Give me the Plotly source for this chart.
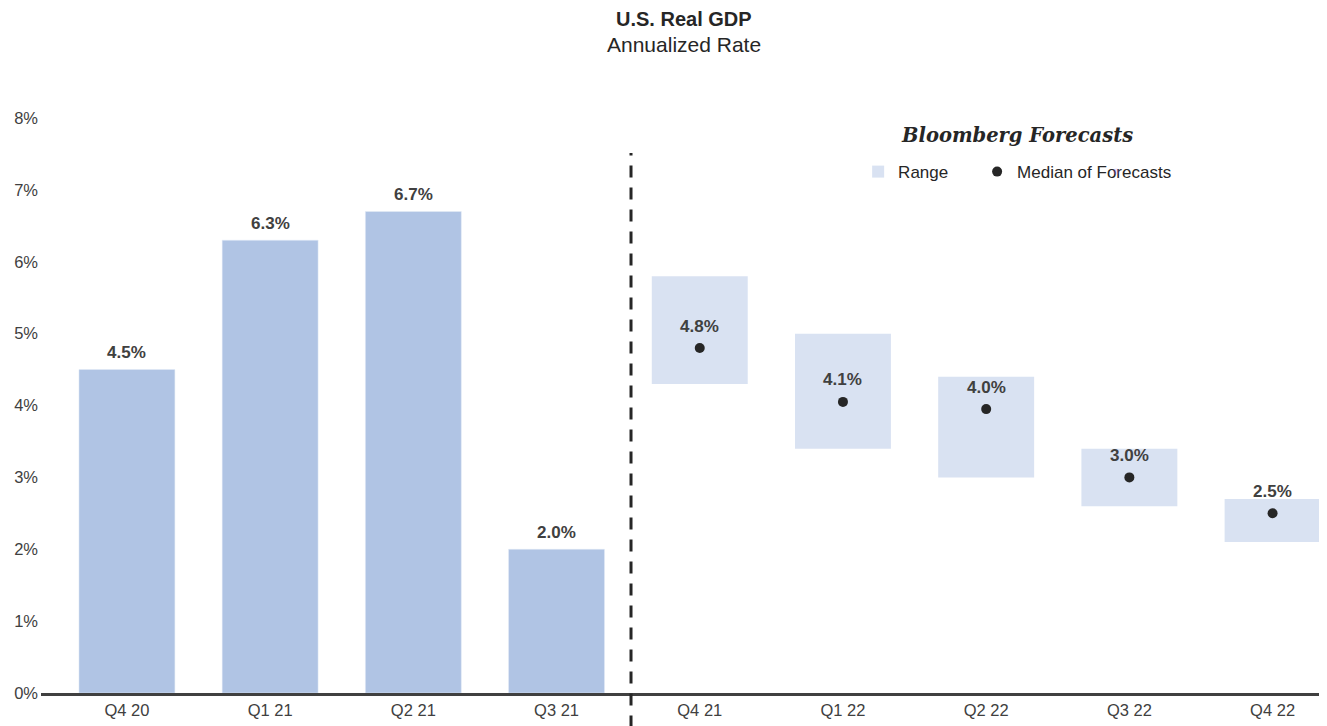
import plotly.graph_objects as go

# actual quarterly GDP
quarters = ["Q4 20", "Q1 21", "Q2 21", "Q3 21"]
gdp = [4.5, 6.3, 6.7, 2.0]

# bloomberg forecasts
fc_quarters = ["Q4 21", "Q1 22", "Q2 22", "Q3 22", "Q4 22"]
fc_low = [4.3, 3.4, 3.0, 2.6, 2.1]
fc_high = [5.8, 5.0, 4.4, 3.4, 2.7]
fc_median = [4.8, 4.05, 3.95, 3.0, 2.5]
fc_labels = ["4.8%", "4.1%", "4.0%", "3.0%", "2.5%"]

all_q = quarters + fc_quarters
txt = "#404040"

fig = go.Figure()

fig.add_trace(go.Bar(
    x=quarters, y=gdp, width=0.67, marker_color="#b0c4e4",
    showlegend=False, hoverinfo="skip",
))

fig.add_trace(go.Bar(
    x=fc_quarters, y=[h - l for h, l in zip(fc_high, fc_low)], base=fc_low,
    width=0.67, name="Range",
    marker=dict(color="#ffffff", line_width=0,
                pattern=dict(shape=".", fgcolor="#a9bde3", bgcolor="#ffffff",
                             size=2, solidity=0.5, fillmode="replace")),
))

fig.add_trace(go.Scatter(
    x=fc_quarters, y=fc_median, mode="markers", name="Median of Forecasts",
    marker=dict(color="#262626", size=10),
))

# empty legend entry so the legend box is wide enough for the last label
fig.add_trace(go.Scatter(x=[None], y=[None], mode="markers", name=" ",
                         marker=dict(opacity=0), hoverinfo="skip"))

# value labels
for q, v in zip(quarters, gdp):
    fig.add_annotation(x=q, y=v, text="<b>%.1f%%</b>" % v, showarrow=False,
                       yshift=17, font=dict(size=17, color=txt))
for q, v, t in zip(fc_quarters, fc_median, fc_labels):
    fig.add_annotation(x=q, y=v, text="<b>%s</b>" % t, showarrow=False,
                       yshift=22, font=dict(size=17, color=txt))

# divider between actuals and forecasts
fig.add_shape(type="line", xref="x", yref="paper", x0=3.52, x1=3.52,
              y0=-0.06, y1=0.939, line=dict(color="#262626", width=3, dash="12px,10px"))

fig.add_annotation(xref="paper", yref="paper", x=0.759, y=0.970,
                   xanchor="center", yanchor="middle",
                   text="<b><i>Bloomberg Forecasts</i></b>", showarrow=False,
                   font=dict(family="DejaVu Serif", size=19.5, color="#262626"))

# title + subtitle
fig.add_annotation(xref="paper", yref="paper", x=0.5, y=1.172,
                   xanchor="center", yanchor="middle", showarrow=False,
                   text="<b>U.S. Real GDP</b>", font=dict(size=20, color="#262626"))
fig.add_annotation(xref="paper", yref="paper", x=0.5, y=1.127,
                   xanchor="center", yanchor="middle", showarrow=False,
                   text="Annualized Rate", font=dict(size=21, color="#262626"))

# page body has an 8px margin, so the figure is sized/placed to compensate
fig.update_layout(
    width=1319, height=718,
    paper_bgcolor="white", plot_bgcolor="white",
    margin=dict(l=33, r=0, t=110, b=33),
    font=dict(family="Liberation Sans, Arial", color=txt, size=16.5),
    barmode="overlay", bargap=0.33,
    legend=dict(orientation="h", x=0.6354, y=0.906, xanchor="left", yanchor="middle",
                font=dict(size=17, color="#262626"), itemwidth=30,
                entrywidth=74, traceorder="normal"),
    xaxis=dict(categoryorder="array", categoryarray=all_q, range=[-0.6, 8.38],
               showline=True, linecolor="#404040", linewidth=2.5, ticks="",
               tickfont=dict(size=16.5, color=txt), showgrid=False, fixedrange=True),
    yaxis=dict(range=[0, 8], dtick=1, ticksuffix="%", showgrid=False, zeroline=False,
               tickfont=dict(size=16.5, color=txt), ticklabelstandoff=2, fixedrange=True),
)

fig.write_html("out.html")
